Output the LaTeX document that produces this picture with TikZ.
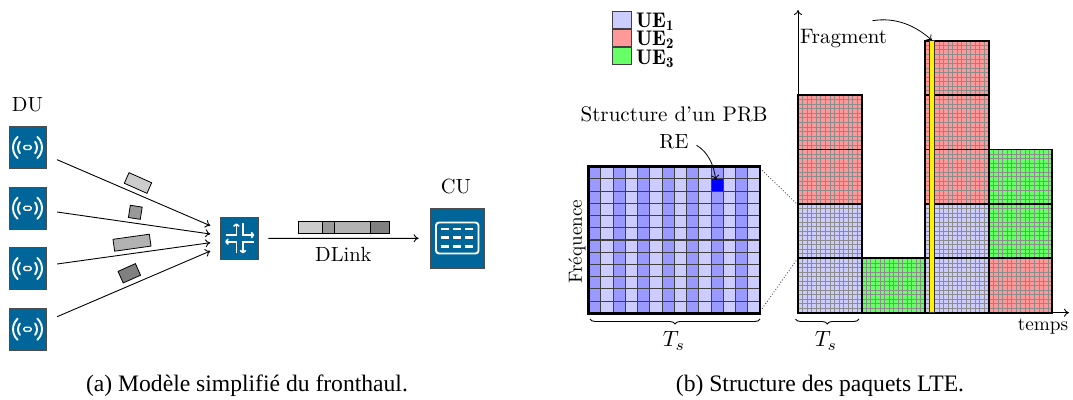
\documentclass[tikz,border=0pt]{standalone}
\usepackage{fontspec}
\newfontfamily\capfont{Liberation Serif}
\usetikzlibrary{arrows.meta,calc,decorations.pathreplacing}
\definecolor{ciscoblue}{HTML}{00669A}
\definecolor{ueA}{HTML}{CCCCFF}
\definecolor{ueAdark}{HTML}{9999FF}
\definecolor{ueB}{HTML}{FF9999}
\definecolor{ueC}{HTML}{66FF66}
\tikzset{
  x=1pt,y=-1pt,
  every picture/.style={line width=0.8pt},
  conn/.style={line width=0.9pt,-{To[length=5pt,width=8pt]},black},
  labeltxt/.style={inner sep=0pt,outer sep=0pt,scale=2.05,black},
  devbox/.style={draw=black!70,line width=0.8pt,fill=ciscoblue,inner sep=0pt,minimum width=37pt,minimum height=42pt},
  pkt/.style={draw=black,line width=0.8pt,inner sep=0pt},
  leg/.style={draw=black!75,line width=0.8pt,inner sep=0pt,minimum width=18.5pt,minimum height=17pt},
  icon/.style={draw=white,line width=1.9pt,line cap=round},
  turn/.style={draw=white,line width=1.7pt,-{To[length=3.5pt,width=6.5pt]}},
  ant/.pic={
    \draw[icon] (-47:14.5) arc[start angle=-47,end angle=47,radius=14.5];
    \draw[icon] (133:14.5) arc[start angle=133,end angle=227,radius=14.5];
    \draw[icon] (-37:9.5) arc[start angle=-37,end angle=37,radius=9.5];
    \draw[icon] (143:9.5) arc[start angle=143,end angle=217,radius=9.5];
    \draw[white,line width=1.4pt,rounded corners=1.5pt] (-3.7,-2) rectangle (3.7,2);
  },
  switchicon/.pic={
    \draw[turn] (-14,-3.3) -- (-3.3,-3.3) -- (-3.3,-15);
    \draw[turn] (3.3,-15) -- (3.3,-3.3) -- (14.5,-3.3);
    \draw[turn] (-3.3,15) -- (-3.3,3.3) -- (-14.5,3.3);
    \draw[turn] (14,3.3) -- (3.3,3.3) -- (3.3,15);
  },
}
\newcommand{\pktblock}[3]{%
  \fill[#3] (#1,#2) rectangle ++(63.6,54.4);
  \foreach \i in {1,...,13}{\draw[black!45,line width=0.55pt] ($(#1,#2)+(\i*4.543,0)$) -- ++(0,54.4);}
  \foreach \j in {1,...,11}{\draw[black!45,line width=0.55pt] ($(#1,#2)+(0,\j*4.533)$) -- ++(63.6,0);}
}
\newcommand{\pktborder}[2]{\draw[black,line width=1.9pt] (#1,#2) rectangle ++(63.6,54.4);}
\begin{document}
\begin{tikzpicture}
\useasboundingbox (0,0) rectangle (1073,399);
% ---------- left: fronthaul
\node[labeltxt] (dulab) at (27.5,105) {DU};
\node[devbox] (du1) at (27.5,147.5) {};
\node[devbox] (du2) at (27.5,208.2) {};
\node[devbox] (du3) at (27.5,268.5) {};
\node[devbox] (du4) at (27.5,329.2) {};
\foreach \n in {1,2,3,4}{\pic at (du\n.center) {ant};}
\node[devbox,minimum width=38pt,minimum height=42pt] (sw) at (239.7,238.4) {};
\pic at (sw.center) {switchicon};
\draw[conn] ($(du1.east)+(10.7,12.2)$) -- ($(sw.west)+(-10,-12.7)$);
\draw[conn] ($(du2.east)+(10.7,3.8)$) -- ($(sw.west)+(-10,-4.4)$);
\draw[conn] ($(du3.east)+(10.7,-4.5)$) -- ($(sw.west)+(-10,4.3)$);
\draw[conn] ($(du4.east)+(10.7,-12.5)$) -- ($(sw.west)+(-10,12.6)$);
\node[pkt,fill=black!20,minimum width=24.8pt,minimum height=11.6pt,rotate=-24] (p1) at (138,183) {};
\node[pkt,fill=black!40,minimum width=12pt,minimum height=12.4pt,rotate=-9] (p2) at (135.3,212.3) {};
\node[pkt,fill=black!30,minimum width=36.7pt,minimum height=12pt,rotate=8] (p3) at (132,242.7) {};
\node[pkt,fill=black!50,minimum width=19pt,minimum height=12.7pt,rotate=24] (p4) at (129.3,273.3) {};
% CU
\node[devbox,minimum width=54pt,minimum height=60pt] (cu) at (457,238.2) {};
\draw[white,line width=1.9pt,rounded corners=3pt] (436,222.5) rectangle (478.5,253.5);
\foreach \yy in {229,237.8,246.7}{\foreach \xx in {445,457,469.2}{\fill[white] (\xx-4,\yy-1.4) rectangle (\xx+4,\yy+1.4);}}
\node[labeltxt] (culab) at (456,186) {CU};
% DLink
\draw[conn] ($(sw.east)+(9.3,-0.1)$) -- ($(cu.west)+(-11,0.1)$);
\node[labeltxt] (dl) at (343.3,254) {DLink};
\draw[pkt,fill=black!20] (298.3,221) rectangle (322.7,233.3);
\draw[pkt,fill=black!40] (322.7,221) rectangle (334.7,233.3);
\draw[pkt,fill=black!30] (334.7,221) rectangle (370.7,233.3);
\draw[pkt,fill=black!50] (370.7,221) rectangle (389.3,233.3);
\node[font=\capfont\fontsize{23.6}{26}\selectfont,inner sep=0pt] (capa) at (247,385.5) {(a) Modèle simplifié du fronthaul.};
% ---------- right: legend
\node[leg,fill=ueA] (l1) at (621.7,20) {};
\node[leg,fill=ueB] (l2) at (621.7,38) {};
\node[leg,fill=ueC] (l3) at (621.7,56) {};
\node[labeltxt,anchor=base west,scale=1.03,black] (t1) at (636,27.3) {$\mathbf{UE_1}$};
\node[labeltxt,anchor=base west,scale=1.03,black] (t2) at (636,45.7) {$\mathbf{UE_2}$};
\node[labeltxt,anchor=base west,scale=1.03,black] (t3) at (636,64) {$\mathbf{UE_3}$};
% ---------- PRB grid
\coordinate (prbtl) at (588.7,166.7);
\foreach \c in {0,...,13}{%
  \pgfmathtruncatemacro{\stripeodd}{mod(\c,2)}
  \ifnum\stripeodd=0 \fill[ueAdark] ($(prbtl)+(\c*12.24,0)$) rectangle ++(12.24,146.6);
  \else \fill[ueA] ($(prbtl)+(\c*12.24,0)$) rectangle ++(12.24,146.6);\fi
}
\fill[blue] ($(prbtl)+(122.4,12.22)$) rectangle ++(12.24,12.22);
\foreach \c in {1,...,13}{\draw[black!75,line width=1.1pt] ($(prbtl)+(\c*12.24,0)$) -- ++(0,146.6);}
\foreach \r in {1,...,11}{\draw[black!75,line width=1.1pt] ($(prbtl)+(0,\r*12.22)$) -- ++(171.3,0);}
\draw[black,line width=2.6pt] (588.7,166.7) rectangle (760,313.3);
\node[inner sep=0pt,minimum width=171.3pt,minimum height=146.6pt] (prb) at (674.35,240) {};
\node[labeltxt,scale=1.03] (st) at (674,114) {Structure d'un PRB};
\node[labeltxt] (re) at (674,141.7) {RE};
\coordinate (recell) at (715.7,180);
\draw[conn,line width=0.8pt] ($(re.east)+(8,3.6)$) .. controls (708,152) and (714,165) .. (recell);
\node[labeltxt,rotate=90,scale=0.93] (fr) at (577,241.7) {Fréquence};
\draw[decorate,decoration={brace,amplitude=5pt,mirror},line width=0.9pt] (590,319) -- (760,319);
\node[labeltxt,scale=1.08] (ts1) at (674,341) {$T_s$};
% ---------- bar chart
\coordinate (org) at (798,312.7);
\draw[conn] (org) -- (798,10);
\draw[conn] (org) -- (1069,312.7);
\draw[black!70,dotted,line width=0.9pt] ($(prb.north east)+(1.7,4)$) -- (798,205);
\draw[black!70,dotted,line width=0.9pt] ($(prb.south east)+(1.7,-5)$) -- (798,258);
\pktblock{798}{258.3}{ueA}
\pktblock{798}{203.9}{ueA}
\pktblock{798}{149.5}{ueB}
\pktblock{798}{95.1}{ueB}
\pktblock{861.6}{258.3}{ueC}
\pktblock{925.2}{258.3}{ueA}
\pktblock{925.2}{203.9}{ueA}
\pktblock{925.2}{149.5}{ueB}
\pktblock{925.2}{95.1}{ueB}
\pktblock{925.2}{40.7}{ueB}
\pktblock{988.8}{258.3}{ueB}
\pktblock{988.8}{203.9}{ueC}
\pktblock{988.8}{149.5}{ueC}
\pktborder{798}{258.3}\pktborder{798}{203.9}\pktborder{798}{149.5}\pktborder{798}{95.1}
\pktborder{861.6}{258.3}
\pktborder{925.2}{258.3}\pktborder{925.2}{203.9}\pktborder{925.2}{149.5}\pktborder{925.2}{95.1}\pktborder{925.2}{40.7}
\pktborder{988.8}{258.3}\pktborder{988.8}{203.9}\pktborder{988.8}{149.5}
\node[draw=black!80,line width=0.5pt,fill=yellow,inner sep=0pt,minimum width=4.6pt,minimum height=272pt] (frag) at (932,176.7) {};
\node[labeltxt,scale=1.02] (fl) at (843.5,39) {Fragment};
\draw[conn,line width=0.8pt] ($(fl.north east)+(-14.5,-9)$) .. controls (895,17) and (915,25) .. (frag.north);
\node[labeltxt,scale=0.94] (tp) at (1043,326.7) {temps};
\draw[decorate,decoration={brace,amplitude=5pt,mirror},line width=0.9pt] (795.5,319) -- (859,319);
\node[labeltxt,scale=1.08] (ts2) at (826,341) {$T_s$};
\node[font=\capfont\fontsize{23.6}{26}\selectfont,inner sep=0pt] (capb) at (820,385.5) {(b) Structure des paquets LTE.};
\end{tikzpicture}
\end{document}
